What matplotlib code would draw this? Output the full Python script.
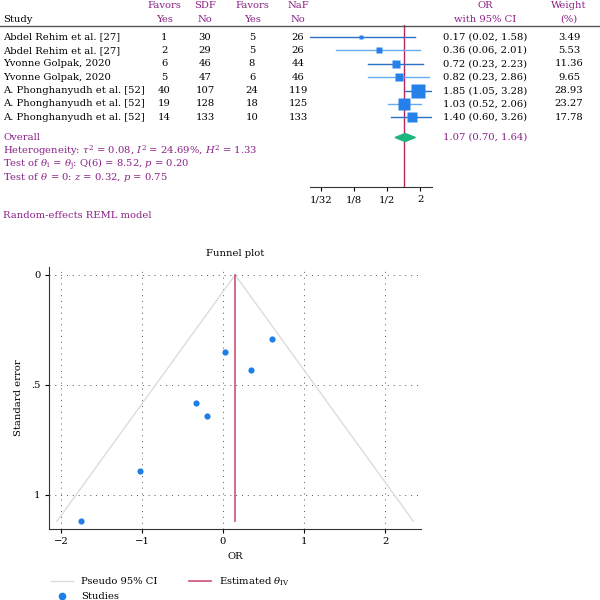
import matplotlib
matplotlib.use('Agg')
import matplotlib.pyplot as plt
from matplotlib.lines import Line2D
from matplotlib.patches import Polygon

# ---- forest plot data ----
studies = ['Abdel Rehim et al. [27]', 'Abdel Rehim et al. [27]',
           'Yvonne Golpak, 2020', 'Yvonne Golpak, 2020',
           'A. Phonghanyudh et al. [52]', 'A. Phonghanyudh et al. [52]',
           'A. Phonghanyudh et al. [52]']
sdf_yes = [1, 2, 6, 5, 40, 19, 14]
sdf_no = [30, 29, 46, 47, 107, 128, 133]
naf_yes = [5, 5, 8, 6, 24, 18, 10]
naf_no = [26, 26, 44, 46, 119, 125, 133]
odds = [0.17, 0.36, 0.72, 0.82, 1.85, 1.03, 1.40]
ci_low = [0.02, 0.06, 0.23, 0.23, 1.05, 0.52, 0.60]
ci_high = [1.58, 2.01, 2.23, 2.86, 3.28, 2.06, 3.26]
weights = [3.49, 5.53, 11.36, 9.65, 28.93, 23.27, 17.78]
overall_or, overall_lo, overall_hi = 1.07, 0.70, 1.64
forest_ticks = [1/32, 1/8, 1/2, 2]
forest_ticklabels = ['1/32', '1/8', '1/2', '2']

# ---- funnel plot data (log OR vs standard error) ----
funnel_lnor = [-1.75, -1.02, -0.33, -0.20, 0.61, 0.03, 0.34]
funnel_se = [1.12, 0.89, 0.58, 0.64, 0.29, 0.35, 0.43]
theta_iv = 0.15
pseudo_x = [-2.05, 0.15, 2.35]
pseudo_se = [1.12, 0.0, 1.12]

purple = '#8a1f86'
red = '#b8285c'
serif = 'DejaVu Serif'
plt.rcParams['font.family'] = serif
plt.rcParams['mathtext.fontset'] = 'dejavuserif'
fs = 7.2

W = H = 600.0
fig = plt.figure(figsize=(6, 6), dpi=100)

def ftext(x, y, s, **kw):
    kw.setdefault('fontsize', fs)
    kw.setdefault('va', 'center')
    fig.text(x / W, 1 - y / H, s, **kw)

# header
row0, step = 37.0, 13.4
cols = [164, 205, 252, 298]
ftext(3, 19, 'Study', ha='left')
for x, top, bot in zip(cols, ['Favors', 'SDF', 'Favors', 'NaF'], ['Yes', 'No', 'Yes', 'No']):
    ftext(x, 5, top, ha='center', color=purple)
    ftext(x, 19, bot, ha='center', color=purple)
ftext(485, 5, 'OR', ha='center', color=purple)
ftext(485, 19, 'with 95% CI', ha='center', color=purple)
ftext(569, 5, 'Weight', ha='center', color=purple)
ftext(569, 19, '(%)', ha='center', color=purple)
fig.add_artist(Line2D([0, 1], [1 - 26 / H, 1 - 26 / H], color='#555555', lw=1.0))

# rows of the table
for i, name in enumerate(studies):
    y = row0 + step * i
    ftext(3, y, name, ha='left')
    for x, v in zip(cols, [sdf_yes[i], sdf_no[i], naf_yes[i], naf_no[i]]):
        ftext(x, y, str(v), ha='center')
    ftext(485, y, '%.2f (%.2f, %.2f)' % (odds[i], ci_low[i], ci_high[i]), ha='center')
    ftext(569, y, '%.2f' % weights[i], ha='center')

ov_y = row0 + step * 7.5
ftext(3, ov_y, 'Overall', ha='left', color=purple)
ftext(485, ov_y, '%.2f (%.2f, %.2f)' % (overall_or, overall_lo, overall_hi), ha='center', color=purple)
ftext(3, 151, r'Heterogeneity: $\tau^2$ = 0.08, $I^2$ = 24.69%, $H^2$ = 1.33', ha='left', color=purple)
ftext(3, 165, r'Test of $\theta_\mathrm{i}$ = $\theta_\mathrm{j}$: Q(6) = 8.52, $p$ = 0.20', ha='left', color=purple)
ftext(3, 178, r'Test of $\theta$ = 0: $z$ = 0.32, $p$ = 0.75', ha='left', color=purple)
ftext(3, 215, 'Random-effects REML model', ha='left', color=purple)

# forest axes
fx0, fx1, fy0, fy1 = 310, 432, 25, 187
fax = fig.add_axes([fx0 / W, 1 - fy1 / H, (fx1 - fx0) / W, (fy1 - fy0) / H])
fax.set_xscale('log', base=2)
fax.set_xlim(min(ci_low), max(ci_high))
fax.set_ylim((fy1 - row0) / step, (fy0 - row0) / step)
for i in range(len(odds)):
    c = '#2a70c4' if i % 2 == 0 else '#6aaaf0'
    fax.plot([ci_low[i], ci_high[i]], [i, i], color=c, lw=1.0, zorder=2)
    fax.plot(odds[i], i, marker='s', color='#2680ea', ms=9.4 * (weights[i] / max(weights)) ** 0.5,
             mec='none', zorder=3)
h = 0.3
fax.add_patch(Polygon([(overall_lo, 7.5), (overall_or, 7.5 - h), (overall_hi, 7.5), (overall_or, 7.5 + h)],
                      closed=True, color='#1fb57f', zorder=3))
fax.axvline(1, color=red, lw=1.0, zorder=1)
for s in ['top', 'right', 'left']:
    fax.spines[s].set_visible(False)
fax.spines['bottom'].set_color('#333333')
fax.set_yticks([])
fax.set_xticks(forest_ticks)
fax.set_xticklabels(forest_ticklabels, fontsize=fs)
fax.xaxis.set_minor_locator(matplotlib.ticker.NullLocator())
fax.tick_params(axis='x', length=3, width=0.8, pad=3)
fax.patch.set_alpha(0)

# funnel plot
px0, px1, py0, py1 = 49, 421, 267, 529
ax = fig.add_axes([px0 / W, 1 - py1 / H, (px1 - px0) / W, (py1 - py0) / H])
ax.set_xlim(-2.148, 2.444)
ax.set_ylim(1.155, -0.036)
ax.plot(pseudo_x, pseudo_se, color='#dcdcdc', lw=1.0, zorder=2)
ax.plot([theta_iv, theta_iv], [0, max(pseudo_se)], color='#cf5f86', lw=1.3, zorder=3)
ax.scatter(funnel_lnor, funnel_se, s=20, color='#1f7fe6', zorder=4, linewidths=0)
ax.set_xticks([-2, -1, 0, 1, 2])
ax.set_xticklabels(['\u22122', '\u22121', '0', '1', '2'], fontsize=fs)
ax.set_yticks([0, 0.5, 1])
ax.set_yticklabels(['0', '.5', '1'], fontsize=fs)
ax.grid(True, linestyle=(0, (1, 5)), color='#555555', lw=0.7, zorder=0)
for s in ['top', 'right']:
    ax.spines[s].set_visible(False)
for s in ['left', 'bottom']:
    ax.spines[s].set_color('#333333')
ax.tick_params(length=3, width=0.8, pad=3)
ax.set_title('Funnel plot', fontsize=fs, pad=8)
ax.set_xlabel('OR', fontsize=fs, labelpad=4)
ax.set_ylabel('Standard error', fontsize=fs, labelpad=6)

handles = [Line2D([], [], color='#dcdcdc', lw=1.0, label='Pseudo 95% CI'),
           Line2D([], [], ls='none', marker='o', ms=4.5, color='#1f7fe6', label='Studies'),
           Line2D([], [], color='#cf5f86', lw=1.3, label=r'Estimated $\theta_\mathrm{IV}$')]
fig.legend(handles=handles, ncol=2, loc='upper left', bbox_to_anchor=(47 / W, 1 - 571 / H),
           frameon=False, fontsize=fs, handlelength=2.2, columnspacing=3.2, labelspacing=0.6,
           borderaxespad=0)

fig.savefig('out.png', dpi=100)
